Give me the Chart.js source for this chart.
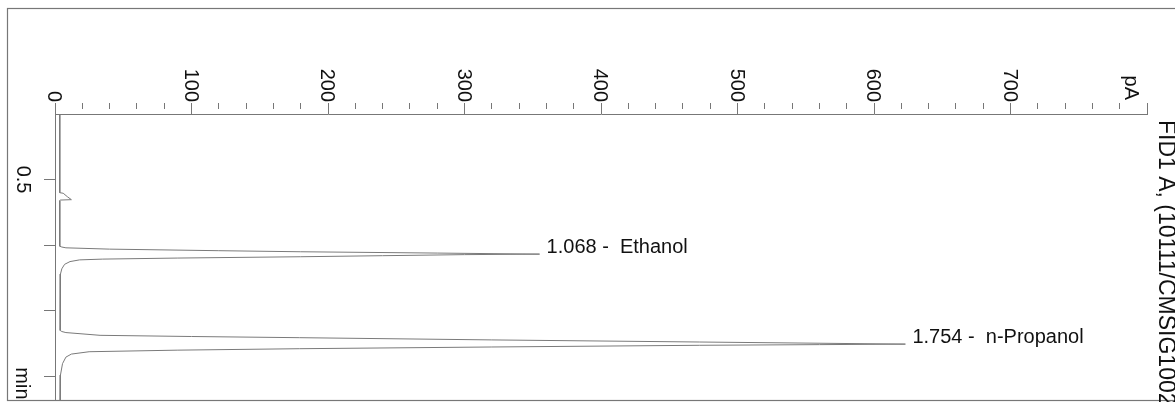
<!DOCTYPE html>
<html>
<head>
<meta charset="utf-8">
<script src="https://cdn.jsdelivr.net/npm/chart.js@4.4.0/dist/chart.umd.min.js"></script>
<style>
    html, body { margin: 0; padding: 0; background: #fff; }
    #wrap { width: 1175px; height: 402px; position: relative; }
</style>
</head>
<body>
<div id="wrap"><canvas id="fidChart"></canvas></div>
<script>
// trace: retention time (min) and detector signal (pA)
const timeMin = [
    0.000, 0.600, 0.604, 0.630, 0.653, 0.656, 0.660,
    1.008, 1.014, 1.020, 1.030, 1.042, 1.050, 1.060, 1.068,
    1.072, 1.080, 1.088, 1.098, 1.106, 1.112, 1.125, 1.146, 1.180, 1.220,
    1.650, 1.658, 1.666, 1.687, 1.696, 1.705, 1.722, 1.738, 1.754,
    1.758, 1.763, 1.776, 1.789, 1.800, 1.812, 1.830, 1.853, 1.903, 1.990, 2.180
];
const signalPA = [
    3.5, 3.5, 6, 9, 12, 4, 3.5,
    3.5, 5, 8, 40, 120, 180, 280, 355,
    300, 240, 180, 90, 35, 18, 11, 7, 5, 4,
    3.8, 5, 8, 33, 100, 179, 320, 472, 623,
    560, 472, 320, 179, 90, 25, 12, 8, 5.5, 4, 3.8
];

const peakTimes = [1.068, 1.754];
const peakHeights = [355, 623];
const peakNames = ['Ethanol', 'n-Propanol'];

const xLabelValues = [0, 100, 200, 300, 400, 500, 600, 700];
const yLabelValues = [0.5];
const xUnit = 'pA';
const yUnit = 'min';
const signalTitle = 'FID1 A, (10111/CMSIG1002';

const FONT = '"Liberation Sans", Arial, sans-serif';
const LINE = '#777';

const annotate = {
    id: 'annotate',
    beforeDraw(chart) {
        const ctx = chart.ctx;
        ctx.save();
        ctx.strokeStyle = LINE;
        ctx.lineWidth = 1.2;
        ctx.strokeRect(7.5, 8.5, 1190, 392);
        ctx.restore();
    },
    afterDraw(chart) {
        const { ctx, scales: { x, y } } = chart;
        ctx.save();
        ctx.fillStyle = '#111';
        ctx.font = '20px ' + FONT;
        ctx.textBaseline = 'alphabetic';

        // pA labels, printed turned a quarter clockwise
        xLabelValues.forEach(v => {
            ctx.save();
            ctx.translate(x.getPixelForValue(v) - 7, x.bottom - 12);
            ctx.rotate(Math.PI / 2);
            ctx.textAlign = 'right';
            ctx.fillText(String(v), 0, 0);
            ctx.restore();
        });
        ctx.save();
        ctx.translate(x.getPixelForValue(x.max) - 22, x.bottom - 14);
        ctx.rotate(Math.PI / 2);
        ctx.textAlign = 'right';
        ctx.fillText(xUnit, 0, 0);
        ctx.restore();

        // time labels
        yLabelValues.forEach(v => {
            ctx.save();
            ctx.translate(17, y.getPixelForValue(v));
            ctx.rotate(Math.PI / 2);
            ctx.textAlign = 'center';
            ctx.fillText(v.toFixed(1), 0, 0);
            ctx.restore();
        });
        ctx.save();
        ctx.translate(16, y.getPixelForValue(2) + 7);
        ctx.rotate(Math.PI / 2);
        ctx.textAlign = 'center';
        ctx.fillText(yUnit, 0, 0);
        ctx.restore();

        // peak annotations
        ctx.textAlign = 'left';
        peakTimes.forEach((t, i) => {
            const px = x.getPixelForValue(peakHeights[i]);
            const py = y.getPixelForValue(t);
            ctx.fillText(t.toFixed(3) + ' -  ' + peakNames[i], px + 7, py - 1);
        });

        // signal title along the right edge
        ctx.font = '23px ' + FONT;
        ctx.save();
        ctx.translate(1159, 120);
        ctx.rotate(Math.PI / 2);
        ctx.textAlign = 'left';
        ctx.fillText(signalTitle, 0, 0);
        ctx.restore();

        ctx.restore();
    }
};

const points = timeMin.map((t, i) => ({ x: signalPA[i], y: t }));

new Chart(document.getElementById('fidChart'), {
    type: 'scatter',
    data: {
        datasets: [{
            data: points,
            showLine: true,
            borderColor: '#7a7a7a',
            borderWidth: 1,
            pointRadius: 0,
            tension: 0
        }]
    },
    options: {
        responsive: true,
        maintainAspectRatio: false,
        animation: false,
        layout: {
            padding: { left: 0, right: 28, top: 0, bottom: 2 }
        },
        plugins: {
            legend: { display: false },
            tooltip: { enabled: false }
        },
        scales: {
            x: {
                type: 'linear',
                position: 'top',
                min: 0,
                max: 800,
                afterFit: scale => { scale.height = 114; },
                ticks: { stepSize: 20, display: false },
                border: { color: LINE, width: 1 },
                grid: {
                    drawOnChartArea: false,
                    tickLength: 11,
                    tickColor: LINE,
                    tickBorderDash: c => (c.tick && c.tick.value % 100 !== 0) ? [6, 40] : []
                }
            },
            y: {
                type: 'linear',
                reverse: true,
                min: 0,
                max: 2.18,
                afterFit: scale => { scale.width = 55; },
                ticks: { stepSize: 0.5, display: false, includeBounds: false },
                border: { color: LINE, width: 1 },
                grid: {
                    drawOnChartArea: false,
                    tickLength: 11,
                    tickColor: c => (c.tick && c.tick.value === 0) ? 'rgba(0,0,0,0)' : LINE
                }
            }
        }
    },
    plugins: [annotate]
});
</script>
</body>
</html>
